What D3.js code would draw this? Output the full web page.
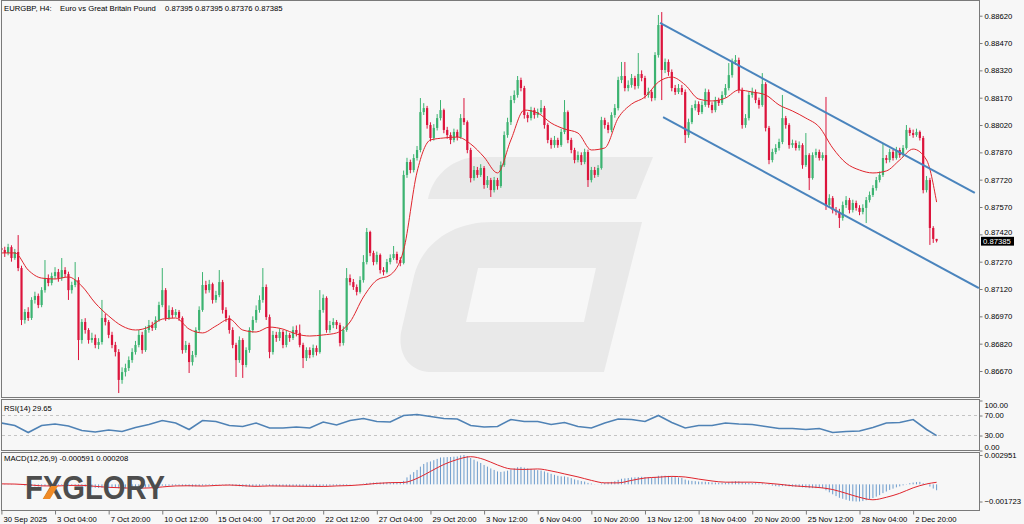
<!DOCTYPE html>
<html><head><meta charset="utf-8">
<script src="https://cdn.jsdelivr.net/npm/d3@7"></script>
<style>html,body{margin:0;padding:0;background:#fff;}svg{display:block;font-family:"Liberation Sans",Arial,sans-serif;}</style>
</head><body><svg id="chart" width="1024" height="524"></svg>
<script>
// ---- data (prices in 1e-5 units) ----
const openP=[87345,87334,87318,87350,87290,87323,87235,86950,86994,86961,87060,87082,87032,87114,87180,87153,87191,87213,87180,87224,87202,87114,87142,87169,86840,86939,86895,86840,86851,86813,86829,86961,86939,86868,86813,86774,86621,86664,86686,86730,86774,86813,86868,86785,86895,86922,86906,86950,87032,87114,86961,87005,86977,86994,86961,86785,86813,86719,86758,86895,87005,87142,87114,87147,87060,87087,87158,87005,86961,86895,86813,86730,86840,86703,86785,86895,86950,87005,87060,87131,86966,86774,86868,86851,86884,86813,86868,86851,86895,86879,86813,86741,86785,86758,86796,86774,87005,87071,86895,86922,86939,86922,86824,86895,87180,87158,87131,87104,87169,87268,87433,87318,87268,87307,87224,87213,87268,87290,87312,87279,87263,87746,87817,87773,87839,87883,88091,88113,88020,87949,88004,88058,88102,87993,87965,87938,87982,87954,88058,88036,87883,87729,87773,87746,87784,87691,87718,87663,87718,87685,87800,87965,88036,88157,88185,88267,88223,88075,88058,88102,88075,88091,88113,88020,87938,87910,87938,87910,87982,88091,87938,87883,87828,87855,87817,87872,87718,87773,87746,87784,88047,88020,87993,88075,88113,88267,88289,88223,88240,88278,88234,88300,88278,88185,88201,88168,88404,88569,88322,88366,88311,88223,88201,88223,88201,87965,88036,88113,88135,88091,88130,88201,88130,88102,88157,88141,88185,88223,88294,88366,88377,88212,88020,88058,88185,88201,88157,88130,88245,88004,87828,87872,87894,87927,88058,88020,87910,87921,87894,87910,87800,87855,87729,87855,87872,87839,87855,87581,87619,87554,87543,87510,87581,87608,87554,87592,87565,87543,87565,87608,87636,87674,87718,87746,87839,87828,87872,87839,87883,87855,87894,87993,87976,87965,87982,87949,87663,87718,87455,87395];
const highP=[87405,87352,87368,87360,87340,87416,87248,87010,87020,87075,87105,87095,87130,87279,87200,87210,87240,87230,87290,87240,87215,87160,87268,87185,86955,86960,86905,86880,86870,86850,87060,86985,86950,86885,86830,86790,86690,86710,86750,86795,86835,86895,86885,86915,86950,86940,86970,87050,87235,87125,87030,87020,87010,87005,86970,86835,86825,86780,86910,87025,87213,87165,87170,87155,87110,87224,87170,87020,86975,86910,86825,86860,86850,86800,86910,86970,87030,87085,87235,87145,86980,86890,86885,86905,86895,86890,86880,86915,86920,86925,86825,86800,86800,86815,86810,87114,87090,87080,86945,86960,86950,86935,86915,87235,87200,87175,87145,87190,87306,87455,87440,87330,87325,87315,87240,87285,87310,87356,87325,87295,87770,87840,87830,87860,87905,88168,88140,88125,88035,88025,88080,88157,88110,88010,87980,88000,87995,88080,88168,88045,87895,87795,87790,87805,87795,87740,87730,87735,87730,87820,87985,88060,88180,88210,88289,88280,88235,88090,88120,88115,88110,88157,88125,88030,87950,87960,87950,88000,88157,88100,87950,87895,87875,87870,87890,87885,87790,87790,87800,88065,88060,88035,88090,88135,88285,88366,88366,88265,88300,88290,88415,88320,88290,88225,88215,88420,88624,88640,88385,88380,88325,88240,88245,88240,88215,88055,88130,88155,88150,88150,88220,88215,88145,88175,88170,88205,88245,88360,88385,88404,88390,88225,88080,88205,88225,88215,88170,88305,88255,88015,87890,87915,87945,88185,88070,88030,87940,87935,87930,87920,87976,87865,87870,87890,87885,87870,88174,87640,87630,87570,87560,87600,87630,87620,87610,87605,87580,87585,87625,87655,87690,87735,87765,87921,87855,87890,87885,87900,87895,87910,88020,88005,87995,88000,87990,87960,87740,87730,87465,87395];
const lowP=[87310,87296,87305,87270,87280,87218,86922,86930,86945,86950,87040,87015,87020,87100,87135,87140,87175,87160,87165,87185,87060,87095,87130,86730,86820,86875,86820,86825,86795,86790,86815,86920,86850,86795,86750,86549,86600,86640,86670,86715,86760,86800,86765,86775,86880,86890,86895,86940,87020,86945,86950,86960,86965,86945,86765,86770,86659,86700,86745,86880,86995,87095,87100,87040,87045,87075,86985,86940,86875,86795,86637,86715,86632,86690,86770,86880,86935,86990,87045,86950,86740,86760,86830,86835,86795,86800,86830,86840,86860,86800,86686,86725,86740,86745,86755,86765,86990,86880,86880,86905,86900,86805,86810,86885,87140,87115,87085,87095,87155,87255,87300,87250,87255,87205,87195,87205,87255,87280,87260,87245,87255,87730,87755,87760,87825,87870,88075,88000,87930,87935,87990,88045,87975,87945,87915,87925,87935,87945,88020,87865,87705,87715,87730,87735,87670,87675,87625,87650,87665,87675,87790,87950,88020,88140,88170,88205,88055,88035,88045,88055,88060,88080,88000,87920,87890,87895,87895,87900,87970,87920,87865,87810,87815,87800,87805,87680,87705,87730,87735,87775,88000,87975,87980,88060,88100,88250,88205,88205,88225,88215,88220,88260,88165,88170,88150,88155,88390,88157,88305,88290,88205,88185,88190,88185,87921,87950,88025,88100,88075,88080,88120,88115,88085,88090,88125,88130,88170,88210,88280,88350,88195,88000,88005,88045,88170,88140,88110,88120,87985,87805,87815,87860,87880,87915,88000,87890,87895,87880,87880,87780,87790,87663,87720,87840,87825,87825,87554,87565,87535,87525,87455,87495,87565,87535,87540,87550,87525,87530,87482,87595,87625,87660,87705,87735,87810,87815,87825,87830,87840,87845,87885,87960,87950,87955,87935,87645,87650,87362,87373,87376];
const closeP=[87334,87318,87350,87290,87323,87235,86950,86994,86961,87060,87082,87032,87114,87180,87153,87191,87213,87180,87224,87202,87114,87142,87169,86840,86939,86895,86840,86851,86813,86829,86961,86939,86868,86813,86774,86621,86664,86686,86730,86774,86813,86868,86785,86895,86922,86906,86950,87032,87114,86961,87005,86977,86994,86961,86785,86813,86719,86758,86895,87005,87142,87114,87147,87060,87087,87158,87005,86961,86895,86813,86730,86840,86703,86785,86895,86950,87005,87060,87131,86966,86774,86868,86851,86884,86813,86868,86851,86895,86879,86813,86741,86785,86758,86796,86774,87005,87071,86895,86922,86939,86922,86824,86895,87180,87158,87131,87104,87169,87268,87433,87318,87268,87307,87224,87213,87268,87290,87312,87279,87263,87746,87817,87773,87839,87883,88091,88113,88020,87949,88004,88058,88102,87993,87965,87938,87982,87954,88058,88036,87883,87729,87773,87746,87784,87691,87718,87663,87718,87685,87800,87965,88036,88157,88185,88267,88223,88075,88058,88102,88075,88091,88113,88020,87938,87910,87938,87910,87982,88091,87938,87883,87828,87855,87817,87872,87718,87773,87746,87784,88047,88020,87993,88075,88113,88267,88289,88223,88240,88278,88234,88300,88278,88185,88201,88168,88404,88569,88322,88366,88311,88223,88201,88223,88201,87965,88036,88113,88135,88091,88130,88201,88130,88102,88157,88141,88185,88223,88294,88366,88377,88212,88020,88058,88185,88201,88157,88130,88245,88004,87828,87872,87894,87927,88058,88020,87910,87921,87894,87910,87800,87855,87729,87855,87872,87839,87855,87581,87619,87554,87543,87510,87581,87608,87554,87592,87565,87543,87565,87608,87636,87674,87718,87746,87839,87828,87872,87839,87883,87855,87894,87993,87976,87965,87982,87949,87663,87718,87455,87395,87385];

// sampled indicator readings (bar index -> value)
const sampleBars=[0,4,8,12,16,20,24,28,32,36,40,44,48,52,56,60,64,68,72,76,80,84,88,92,96,100,104,108,112,116,120,124,128,132,136,140,144,148,152,156,160,164,168,172,176,180,184,188,192,196,200,204,208,212,216,220,224,228,232,236,240,244,248,252,256,260,264,268,272,276,279];
const maP=[87318,87318,87224,87180,87175,87186,87136,87043,86972,86917,86895,86911,86955,86961,86900,86879,86917,86955,86895,86884,86911,86900,86873,86862,86868,86879,86939,87076,87169,87197,87334,87762,87938,87949,87954,87916,87844,87757,87938,88102,88086,88031,87998,87976,87883,87894,88058,88135,88174,88256,88283,88240,88163,88152,88168,88212,88201,88185,88130,88097,88058,88009,87894,87811,87773,87757,87768,87828,87888,87828,87597];
const rsiVals=[55,50,36,50,53,49,40,37,41,38,46,52,60,55,42,60,58,50,48,55,45,45,47,45,57,51,60,64,58,57,70,72,68,64,63,50,47,48,62,58,58,52,56,48,45,55,63,62,58,70,56,45,50,50,55,53,52,48,44,44,42,44,36,38,39,46,55,56,62,42,29.65];
// MACD in 1e-6 units
const macdMain=[40,35,30,30,25,10,-60,-120,-170,-190,-200,-215,-210,-180,-165,-140,-115,-100,-80,-70,-75,-70,-65,-140,-185,-230,-275,-315,-345,-360,-340,-330,-330,-340,-350,-400,-420,-425,-420,-405,-385,-360,-355,-325,-290,-265,-235,-195,-145,-140,-130,-125,-120,-120,-150,-165,-195,-210,-200,-170,-125,-95,-65,-60,-50,-30,-40,-60,-90,-130,-175,-190,-225,-230,-220,-200,-175,-150,-120,-130,-165,-175,-180,-180,-190,-190,-190,-185,-180,-185,-200,-210,-220,-225,-230,-195,-160,-150,-140,-130,-135,-130,-120,-75,-35,-5,15,35,70,130,160,175,185,180,175,175,175,175,170,165,350,700,980,1230,1450,1780,2050,2220,2300,2430,2560,2700,2720,2740,2750,2780,2800,2900,2951,2850,2650,2480,2300,2150,1950,1780,1600,1450,1300,1250,1300,1380,1500,1600,1720,1750,1680,1600,1550,1480,1430,1390,1300,1180,1060,960,860,800,800,720,620,500,420,330,280,150,80,20,-10,90,150,180,250,320,450,560,600,640,690,700,740,760,730,700,660,720,860,860,870,850,790,730,690,640,480,390,350,320,280,260,260,230,190,180,160,160,170,210,270,320,300,210,150,140,130,110,90,110,50,-60,-130,-180,-210,-180,-170,-200,-220,-240,-250,-300,-320,-380,-380,-380,-380,-370,-600,-800,-1000,-1180,-1350,-1450,-1550,-1650,-1700,-1723,-1720,-1680,-1600,-1500,-1380,-1230,-1080,-880,-720,-560,-430,-300,-200,-100,30,120,180,230,250,110,30,-220,-420,-591];
const macdSignal=[50,30,-40,-150,-170,-110,-100,-200,-300,-350,-390,-360,-260,-160,-140,-170,-110,-70,-130,-200,-160,-170,-185,-195,-210,-160,-120,-30,100,170,190,600,1300,2000,2500,2780,2500,1950,1550,1500,1550,1350,1050,750,400,150,150,400,640,720,800,740,530,340,220,220,220,130,10,-140,-230,-320,-520,-900,-1300,-1550,-1300,-900,-350,40,208];

const channelUpper=[[196.5,88580],[290.4,87647]];
const channelLower=[[197.4,88064],[291.6,87125]];

const priceTicks=[86670,86820,86970,87120,87270,87420,87570,87720,87870,88020,88170,88320,88470,88620];
const timeLabels=["30 Sep 2025","3 Oct 04:00","7 Oct 20:00","10 Oct 12:00","15 Oct 04:00","17 Oct 20:00","22 Oct 12:00","27 Oct 04:00","29 Oct 20:00","3 Nov 12:00","6 Nov 04:00","10 Nov 20:00","13 Nov 12:00","18 Nov 04:00","20 Nov 20:00","25 Nov 12:00","28 Nov 04:00","2 Dec 20:00"];
const timeLabelBars=[0,16,32,48,64,80,96,112,128,144,160,176,192,208,224,240,256,272];

// ---- drawing ----
const svg=d3.select("#chart");
const BG="#f7f7f7", FRAME="#7a7a7a", UP="#3cb371", DN="#dc143c";
const P=v=>v/1e5;
svg.append("rect").attr("width",1024).attr("height",524).attr("fill",BG);

const x=d3.scaleLinear().domain([0,279]).range([1.4,936.6]);
const yMain=d3.scaleLinear().domain([0.86670,0.88620]).range([371,15.7]);
const yRsi=d3.scaleLinear().domain([0,100]).range([450.5,400.5]);
const yMacd=d3.scaleLinear().domain([-0.001723,0.002951]).range([501.5,455]);

// watermark logo G
const wm=svg.append("g").attr("fill","#e9e9e9");
wm.append("path").attr("d","M474,157 L653,157 L636,199 L428,199 C432,178 449,160 474,157 Z");
wm.append("path").attr("fill-rule","evenodd").attr("d","M492,222 L642,222 L604,372 L432,372 C408,372 396,352 402,328 L414,276 C422,244 452,222 492,222 Z M478,268 L596,268 L584,322 L466,322 Z");

// clip main
svg.append("clipPath").attr("id","clipMain").append("rect").attr("x",2).attr("y",1).attr("width",977).attr("height",396);
const main=svg.append("g").attr("clip-path","url(#clipMain)");

const bars=d3.range(closeP.length);
// candles
const cg=main.append("g");
cg.selectAll("line.w").data(bars).join("line")
 .attr("x1",i=>x(i)).attr("x2",i=>x(i))
 .attr("y1",i=>yMain(P(highP[i]))).attr("y2",i=>yMain(P(lowP[i])))
 .attr("stroke",i=>closeP[i]>=openP[i]?UP:DN).attr("stroke-width",1);
cg.selectAll("rect.b").data(bars).join("rect")
 .attr("x",i=>x(i)-1.1).attr("width",2.2)
 .attr("y",i=>yMain(P(Math.max(openP[i],closeP[i]))))
 .attr("height",i=>Math.max(1,Math.abs(yMain(P(openP[i]))-yMain(P(closeP[i])))))
 .attr("fill",i=>closeP[i]>=openP[i]?UP:DN);

// moving average
main.append("path").datum(sampleBars.map((b,k)=>[b,maP[k]]))
 .attr("fill","none").attr("stroke","#e0242c").attr("stroke-width",1)
 .attr("d",d3.line().x(d=>x(d[0])).y(d=>yMain(P(d[1]))).curve(d3.curveMonotoneX));

// channel
[channelUpper,channelLower].forEach(c=>{
 main.append("path").datum(c).attr("fill","none").attr("stroke","#4a84bd").attr("stroke-width",2)
  .attr("d",d3.line().x(d=>x(d[0])).y(d=>yMain(P(d[1]))));
});

// RSI
svg.append("clipPath").attr("id","clipRsi").append("rect").attr("x",2).attr("y",400).attr("width",977).attr("height",50);
const rg=svg.append("g").attr("clip-path","url(#clipRsi)");
[70,30].forEach(l=>rg.append("line").attr("x1",2).attr("x2",979).attr("y1",yRsi(l)).attr("y2",yRsi(l))
 .attr("stroke","#c4c4c4").attr("stroke-dasharray","3,3"));
rg.append("path").datum(sampleBars.map((b,k)=>[b,rsiVals[k]]))
 .attr("fill","none").attr("stroke","#4f82b5").attr("stroke-width",1.6)
 .attr("d",d3.line().x(d=>x(d[0])).y(d=>yRsi(d[1])));

// MACD
svg.append("clipPath").attr("id","clipMacd").append("rect").attr("x",2).attr("y",453).attr("width",977).attr("height",57);
const mg=svg.append("g").attr("clip-path","url(#clipMacd)");
mg.selectAll("line.h").data(bars).join("line")
 .attr("x1",i=>x(i)).attr("x2",i=>x(i))
 .attr("y1",yMacd(0)).attr("y2",i=>yMacd(macdMain[i]/1e6))
 .attr("stroke","#6b9bcc").attr("stroke-width",1);
mg.append("path").datum(sampleBars.map((b,k)=>[b,macdSignal[k]]))
 .attr("fill","none").attr("stroke","#e0242c").attr("stroke-width",1)
 .attr("d",d3.line().x(d=>x(d[0])).y(d=>yMacd(d[1]/1e6)).curve(d3.curveMonotoneX));

// FXGLORY logo
const lg=svg.append("g");
lg.append("text").attr("x",25).attr("y",499).attr("font-size",34).attr("font-weight","bold")
 .attr("font-family","'Liberation Sans',Arial,sans-serif").attr("fill","#4d4d4d")
 .attr("textLength",140).attr("lengthAdjust","spacingAndGlyphs").text("FXGLORY");
lg.append("path").attr("fill","#f08a24").attr("d","M51,486 L58,486 L50,499 L43,499 Z");

// frames
const fr=svg.append("g").attr("fill","none").attr("stroke",FRAME).attr("stroke-width",1);
fr.append("rect").attr("x",1.5).attr("y",0.5).attr("width",978).attr("height",397);
fr.append("rect").attr("x",1.5).attr("y",399.5).attr("width",978).attr("height",51);
fr.append("rect").attr("x",1.5).attr("y",452.5).attr("width",978).attr("height",58);

// axes
const axFont=g=>g.selectAll("text").attr("font-size",7.7).attr("fill","#000").attr("font-family","'Liberation Sans',Arial,sans-serif");
const ay=svg.append("g").attr("transform","translate(979.5,0)")
 .call(d3.axisRight(yMain).tickValues(priceTicks.map(P)).tickSize(3).tickPadding(2).tickFormat(d3.format(".5f")));
ay.select(".domain").remove(); ay.selectAll("line").attr("stroke",FRAME); axFont(ay);
// the label just above the current-price box is nudged up so the box does not cover it
ay.selectAll(".tick text").filter(d=>Math.abs(d-0.8742)<1e-9).attr("dy","0.05em");

const ar=svg.append("g").attr("transform","translate(979.5,0)")
 .call(d3.axisRight(yRsi).tickValues([100,70,30,0]).tickSize(3).tickPadding(2).tickFormat(d3.format(".2f")));
ar.select(".domain").remove(); ar.selectAll("line").attr("stroke",FRAME); axFont(ar);
ar.selectAll(".tick text").attr("dy",d=>d===100?"0.9em":d===0?"-0.1em":"0.32em");

const am=svg.append("g").attr("transform","translate(979.5,0)")
 .call(d3.axisRight(yMacd).tickValues([0.002951,-0.001723]).tickSize(3).tickPadding(2).tickFormat(d3.format(".6f")));
am.select(".domain").remove(); am.selectAll("line").attr("stroke",FRAME); axFont(am);

const ax=svg.append("g").attr("transform","translate(0,510.5)")
 .call(d3.axisBottom(x).tickValues(timeLabelBars).tickSize(4).tickPadding(1).tickFormat((d,i)=>timeLabels[i]));
ax.select(".domain").remove(); ax.selectAll("line").attr("stroke",FRAME); axFont(ax);
ax.selectAll(".tick text").attr("text-anchor","start").attr("dx",1.5).attr("dy","0.85em");

// last price box
const lastY=yMain(P(closeP[closeP.length-1]));
svg.append("rect").attr("x",981).attr("y",lastY-3.9).attr("width",33).attr("height",8.8).attr("fill","#000");
svg.append("text").attr("x",983).attr("y",lastY+3.1).attr("font-size",7.7).attr("fill","#fff").text(d3.format(".5f")(P(closeP[closeP.length-1])));

// titles
const t=svg.append("g").attr("font-size",7.7).attr("fill","#000");
t.append("text").attr("x",4).attr("y",11).text("EURGBP, H4:");
t.append("text").attr("x",60).attr("y",11).text("Euro vs Great Britain Pound");
t.append("text").attr("x",165).attr("y",11).text("0.87395 0.87395 0.87376 0.87385");
t.append("text").attr("x",4).attr("y",411).text("RSI(14) 29.65");
t.append("text").attr("x",4).attr("y",461).text("MACD(12,26,9) -0.000591 0.000208");
</script></body></html>
